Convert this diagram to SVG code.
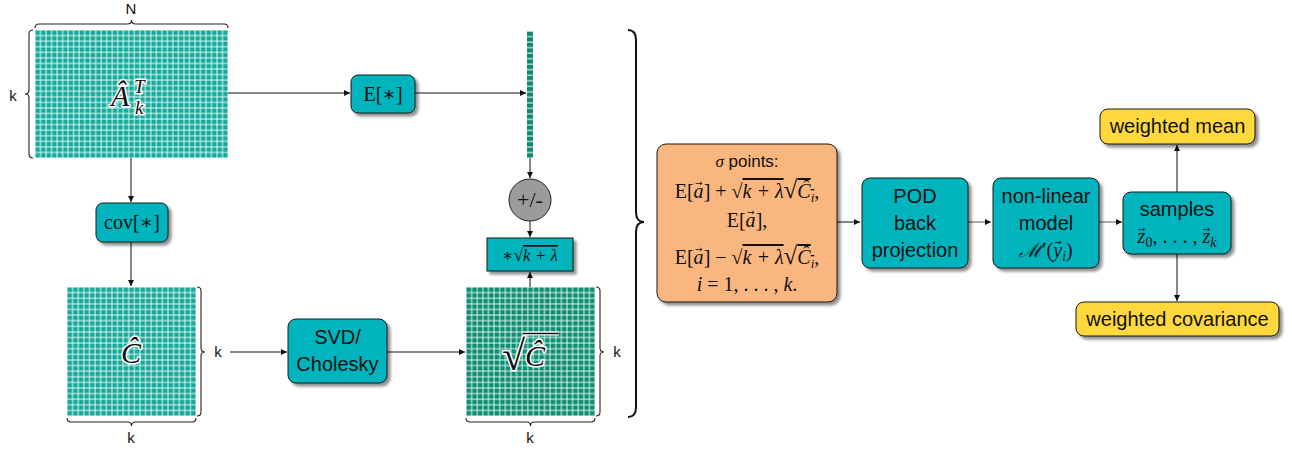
<svg xmlns="http://www.w3.org/2000/svg" width="1292" height="452" viewBox="0 0 1292 452">
<style>
.box{stroke:#1a1a1a;stroke-width:1;filter:url(#sh)}
.teal{fill:#00b4be}
.yel{fill:#fed83c}
.org{fill:#f9b67f}
.sans{font-family:"Liberation Sans",Arial,sans-serif;fill:#111}
.ser{font-family:"Liberation Serif","DejaVu Serif",serif;fill:#111}
.it{font-style:italic}
.vec{font-family:"DejaVu Sans",sans-serif;font-style:normal}
.halo{stroke:#fff;stroke-width:3;paint-order:stroke;stroke-linejoin:round}
.br{fill:none;stroke:#222;stroke-width:1.1}
.con line{stroke:#111;stroke-width:1;fill:none;marker-end:url(#ar)}
.ov{text-decoration:overline}
</style>
<defs>
<filter id="sh" x="-20%" y="-20%" width="150%" height="150%">
<feGaussianBlur in="SourceAlpha" stdDeviation="1.6"/>
<feOffset dx="2.5" dy="2.5" result="o"/>
<feComponentTransfer><feFuncA type="linear" slope="0.45"/></feComponentTransfer>
<feMerge><feMergeNode/><feMergeNode in="SourceGraphic"/></feMerge>
</filter>
<marker id="ar" viewBox="0 0 10 10" refX="10" refY="5" markerWidth="8" markerHeight="6" orient="auto" markerUnits="userSpaceOnUse"><path d="M0,0 L10,5 L0,10 z" fill="#111"/></marker>
<pattern id="pA" x="35" y="30" width="5.514" height="5.565" patternUnits="userSpaceOnUse"><rect width="5.514" height="5.565" fill="#fff"/><rect x="0.45" y="0.45" width="4.65" height="4.7" fill="#14ab9c"/></pattern>
<pattern id="pC" x="67" y="287" width="5.609" height="5.609" patternUnits="userSpaceOnUse"><rect width="5.609" height="5.609" fill="#fff"/><rect x="0.45" y="0.45" width="4.75" height="4.75" fill="#16a999"/></pattern>
<pattern id="pS" x="466" y="287" width="5.609" height="5.609" patternUnits="userSpaceOnUse"><rect width="5.609" height="5.609" fill="#fff"/><rect x="0.45" y="0.45" width="4.75" height="4.75" fill="#0d8e73"/></pattern>
<pattern id="pV" x="527" y="31" width="6" height="5.52" patternUnits="userSpaceOnUse"><rect width="6" height="5.52" fill="#fff"/><rect x="0" y="0.6" width="6" height="4.5" fill="#0b8a6e"/></pattern>
</defs>
<rect width="1292" height="452" fill="#fff"/>

<g id="connectors" class="con">
<line x1="228" y1="93" x2="350" y2="93"/>
<line x1="415" y1="93" x2="526" y2="93"/>
<line x1="530" y1="158" x2="530" y2="178"/>
<line x1="530" y1="221" x2="530" y2="237"/>
<line x1="530" y1="287" x2="530" y2="272"/>
<line x1="131" y1="158" x2="131" y2="202"/>
<line x1="131" y1="242" x2="131" y2="286"/>
<line x1="230" y1="352" x2="287" y2="352"/>
<line x1="387" y1="352" x2="465" y2="352"/>
<line x1="837" y1="222" x2="860" y2="222"/>
<line x1="968" y1="222" x2="991" y2="222" style="stroke:#555"/>
<line x1="1099" y1="222" x2="1122" y2="222" style="stroke:#555"/>
<line x1="1177" y1="192" x2="1177" y2="145"/>
<line x1="1177" y1="254" x2="1177" y2="301"/>
</g>

<g id="matrixA">
<rect x="35" y="30" width="193" height="128" fill="url(#pA)"/>
<path class="br" d="M35,28 q0,-4 4,-4 L127.5,24 q4,0 4,-4 q0,4 4,4 L224,24 q4,0 4,4"/>
<path class="br" d="M33,30 q-4,0 -4,4 L29,90 q0,4 -4,4 q4,0 4,4 L29,154 q0,4 4,4"/>
<text class="sans" x="131" y="14" font-size="15" text-anchor="middle">N</text>
<text class="sans" x="13" y="101" font-size="15" text-anchor="middle">k</text>
<text class="ser it halo" x="111" y="106" font-size="30">Â</text>
<text class="ser it halo" x="134" y="93" font-size="19">T</text>
<text class="ser it halo" x="135" y="114" font-size="19">k</text>
</g>

<g id="meanBox">
<rect class="box teal" x="351" y="75" width="64" height="38" rx="7"/>
<text class="ser" x="383" y="101" font-size="20" text-anchor="middle">E[∗]</text>
</g>

<g id="vector">
<rect x="527" y="31" width="6" height="127" fill="url(#pV)"/>
</g>

<g id="plusminus">
<circle cx="530" cy="200" r="21" fill="#9b9b9b" stroke="#222" stroke-width="1"/>
<text class="ser" x="530" y="207" font-size="22" text-anchor="middle">+/-</text>
</g>

<g id="scaleBox">
<rect class="box teal" x="487" y="238" width="86" height="33"/>
<text class="ser" x="530" y="261" font-size="17" text-anchor="middle">∗√<tspan class="it ov">k + λ</tspan></text>
</g>

<g id="covBox">
<rect class="box teal" x="96" y="203" width="72" height="39" rx="7"/>
<text class="ser" x="132" y="229" font-size="20" text-anchor="middle">cov[∗]</text>
</g>

<g id="matrixC">
<rect x="67" y="287" width="129" height="129" fill="url(#pC)"/>
<path class="br" d="M197,287 q4,0 4,4 L201,348 q0,4 4,4 q-4,0 -4,4 L201,412 q0,4 -4,4"/>
<path class="br" d="M67,418 q0,4 4,4 L127.5,422 q4,0 4,4 q0,-4 4,-4 L192,422 q4,0 4,-4"/>
<text class="sans" x="218" y="357" font-size="15" text-anchor="middle">k</text>
<text class="sans" x="131" y="443" font-size="15" text-anchor="middle">k</text>
<text class="ser it halo" x="131" y="363" font-size="30" text-anchor="middle">Ĉ</text>
</g>

<g id="svdBox">
<rect class="box teal" x="288" y="319" width="99" height="64" rx="8"/>
<text class="sans" x="337.5" y="344" font-size="20" text-anchor="middle">SVD/</text>
<text class="sans" x="337.5" y="371" font-size="20" text-anchor="middle">Cholesky</text>
</g>

<g id="matrixSqrtC">
<rect x="466" y="287" width="129" height="129" fill="url(#pS)"/>
<path class="br" d="M596,287 q4,0 4,4 L600,348 q0,4 4,4 q-4,0 -4,4 L600,412 q0,4 -4,4"/>
<path class="br" d="M466,418 q0,4 4,4 L526.5,422 q4,0 4,4 q0,-4 4,-4 L591,422 q4,0 4,-4"/>
<text class="sans" x="617" y="357" font-size="15" text-anchor="middle">k</text>
<text class="sans" x="530" y="443" font-size="15" text-anchor="middle">k</text>
<text class="ser halo" x="502" y="370" font-size="42">√</text>
<line x1="523" y1="333.5" x2="559" y2="333.5" stroke="#fff" stroke-width="4"/>
<line x1="523" y1="333.5" x2="559" y2="333.5" stroke="#111" stroke-width="1.3"/>
<text class="ser it halo" x="525" y="366" font-size="30">Ĉ</text>
</g>

<g id="bigBrace">
<path d="M628,30 q8,0 8,10 L636,212 q0,10 8,10 q-8,0 -8,10 L636,407 q0,10 -8,10" fill="none" stroke="#111" stroke-width="2"/>
</g>

<g id="sigmaBox">
<rect class="box org" x="657" y="144" width="180" height="158" rx="9"/>
<text x="747" y="167" font-size="17" text-anchor="middle"><tspan class="ser it">σ</tspan><tspan class="sans"> points:</tspan></text>
<text class="ser" x="747" y="198" font-size="20" text-anchor="middle">E[<tspan class="it">a</tspan><tspan class="vec" font-size="9" dx="-8.5" dy="-12">→</tspan><tspan dx="1" dy="12">] + √</tspan><tspan class="it ov">k + λ</tspan><tspan font-size="25">√</tspan><tspan class="it ov">Ĉ<tspan font-size="13" dy="4">i</tspan></tspan><tspan dy="-4">,</tspan></text>
<text class="ser" x="747" y="227" font-size="20" text-anchor="middle">E[<tspan class="it">a</tspan><tspan class="vec" font-size="9" dx="-8.5" dy="-12">→</tspan><tspan dx="1" dy="12">],</tspan></text>
<text class="ser" x="747" y="264" font-size="20" text-anchor="middle">E[<tspan class="it">a</tspan><tspan class="vec" font-size="9" dx="-8.5" dy="-12">→</tspan><tspan dx="1" dy="12">] − √</tspan><tspan class="it ov">k + λ</tspan><tspan font-size="25">√</tspan><tspan class="it ov">Ĉ<tspan font-size="13" dy="4">i</tspan></tspan><tspan dy="-4">,</tspan></text>
<text class="ser" x="747" y="291" font-size="20" text-anchor="middle"><tspan class="it">i</tspan> = 1, . . . , <tspan class="it">k</tspan>.</text>
</g>

<g id="podBox">
<rect class="box teal" x="862" y="178" width="106" height="90" rx="8"/>
<text class="sans" x="915" y="203" font-size="20" text-anchor="middle">POD</text>
<text class="sans" x="915" y="230" font-size="20" text-anchor="middle">back</text>
<text class="sans" x="915" y="257" font-size="20" text-anchor="middle">projection</text>
</g>

<g id="modelBox">
<rect class="box teal" x="993" y="178" width="106" height="90" rx="8"/>
<text class="sans" x="1046" y="203" font-size="20" text-anchor="middle">non-linear</text>
<text class="sans" x="1046" y="230" font-size="20" text-anchor="middle">model</text>
<text class="ser" x="1046" y="257" font-size="20" text-anchor="middle"><tspan class="it">ℳ</tspan>′(<tspan class="it">y</tspan><tspan class="vec" font-size="9" dx="-8" dy="-12">→</tspan><tspan font-size="14" dy="16" dx="0.5" class="it">i</tspan><tspan dy="-4">)</tspan></text>
</g>

<g id="samplesBox">
<rect class="box teal" x="1123" y="192" width="108" height="62" rx="8"/>
<text class="sans" x="1177" y="216" font-size="20" text-anchor="middle">samples</text>
<text class="ser" x="1177" y="243" font-size="20" text-anchor="middle"><tspan class="it">z</tspan><tspan class="vec" font-size="9" dx="-7.5" dy="-11">→</tspan><tspan font-size="14" dy="15" dx="0">0</tspan><tspan dy="-4">, . . . , </tspan><tspan class="it">z</tspan><tspan class="vec" font-size="9" dx="-7.5" dy="-11">→</tspan><tspan font-size="14" dy="15" dx="0" class="it">k</tspan></text>
</g>

<g id="meanOut">
<rect class="box yel" x="1100" y="109" width="155" height="35" rx="8"/>
<text class="sans" x="1177.5" y="133" font-size="20" text-anchor="middle">weighted mean</text>
</g>

<g id="covOut">
<rect class="box yel" x="1076" y="302" width="203" height="34" rx="8"/>
<text class="sans" x="1177.5" y="326" font-size="20" text-anchor="middle">weighted covariance</text>
</g>
</svg>
